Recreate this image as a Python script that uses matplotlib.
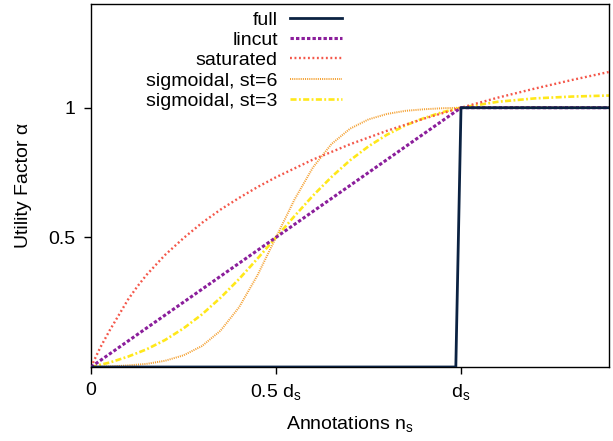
import numpy as np
import matplotlib
matplotlib.use('Agg')
import matplotlib.pyplot as plt

plt.rcParams['font.family'] = ['Liberation Sans', 'DejaVu Sans']

# значения (d_s = 1)
x_full = [0.0, 0.986, 1.0, 1.4]
y_full = [0.0, 0.0, 1.0, 1.0]

x_lin = [0.0, 1.0, 1.4]
y_lin = [0.0, 1.0, 1.0]

x_s = [0.0, 0.025, 0.05, 0.075, 0.1, 0.125, 0.15, 0.2, 0.25, 0.3, 0.35,
       0.4, 0.45, 0.5, 0.6, 0.7, 0.8, 0.9, 1.0, 1.1, 1.2, 1.3, 1.4]
y_sat = [0.0, 0.075, 0.14, 0.2, 0.26, 0.31, 0.355, 0.432, 0.497, 0.556,
         0.607, 0.652, 0.694, 0.732, 0.8, 0.859, 0.911, 0.958, 1.0, 1.039,
         1.074, 1.107, 1.138]

x_sig = [0.0, 0.05, 0.1, 0.15, 0.2, 0.25, 0.3, 0.35, 0.4, 0.45, 0.5,
         0.55, 0.6, 0.65, 0.7, 0.75, 0.8, 0.85, 0.9, 0.95, 1.0,
         1.1, 1.2, 1.3, 1.4]
y_st6 = [0.0, 0.002, 0.006, 0.012, 0.024, 0.045, 0.081, 0.14, 0.23, 0.354,
         0.5, 0.646, 0.77, 0.86, 0.919, 0.955, 0.976, 0.988, 0.994, 0.998,
         1.0, 1.001, 1.002, 1.002, 1.002]
y_st3 = [0.0, 0.017, 0.04, 0.068, 0.104, 0.149, 0.203, 0.267, 0.339, 0.418,
         0.5, 0.582, 0.661, 0.733, 0.797, 0.851, 0.896, 0.932, 0.96, 0.983,
         1.0, 1.023, 1.036, 1.043, 1.047]

fig = plt.figure(figsize=(6.13, 4.41), dpi=100)
ax = fig.add_axes([91 / 613, 1 - 367 / 441, 518 / 613, 363 / 441])

ax.plot(x_full, y_full, color='#0b2242', lw=2.0, label='full', zorder=5)
ax.plot(x_lin, y_lin, color='#8b1e9b', lw=2.2, dashes=(1.1, 0.7), label='lincut', zorder=4)
ax.plot(x_s, y_sat, color='#f4574a', lw=1.7, dashes=(0.8, 1.1), label='saturated', zorder=3)
ax.plot(x_sig, y_st6, color='#f4a030', lw=1.4, dashes=(0.55, 0.55), label='sigmoidal, st=6', zorder=2)
ax.plot(x_sig, y_st3, color='#ffe81a', lw=1.9, dashes=(2.3, 0.9, 0.7, 0.9), label='sigmoidal, st=3', zorder=2)

ax.set_xlim(0, 1.4)
ax.set_ylim(0, 1.4)
ax.set_xticks([0, 0.5, 1.0])
ax.set_xticklabels(['0', '0.5 d$_\\mathregular{s}$', 'd$_\\mathregular{s}$'])
ax.set_yticks([0.5, 1.0])
ax.set_yticklabels(['0.5', '1'])
ax.tick_params(direction='out', length=5, width=1, labelsize=14, pad=6)
for s in ax.spines.values():
    s.set_linewidth(1.0)

ax.set_xlabel('Annotations n$_\\mathregular{s}$', fontsize=14, labelpad=9)
ax.set_ylabel('Utility Factor α', fontsize=14, labelpad=12)

ax.legend(loc='upper right', bbox_to_anchor=((342 - 91) / 518, (367 - 11) / 363),
          frameon=False, markerfirst=False, fontsize=14, handlelength=2.7,
          handletextpad=0.6, labelspacing=0.14, borderpad=0, borderaxespad=0)

fig.savefig('out.png', dpi=100)
